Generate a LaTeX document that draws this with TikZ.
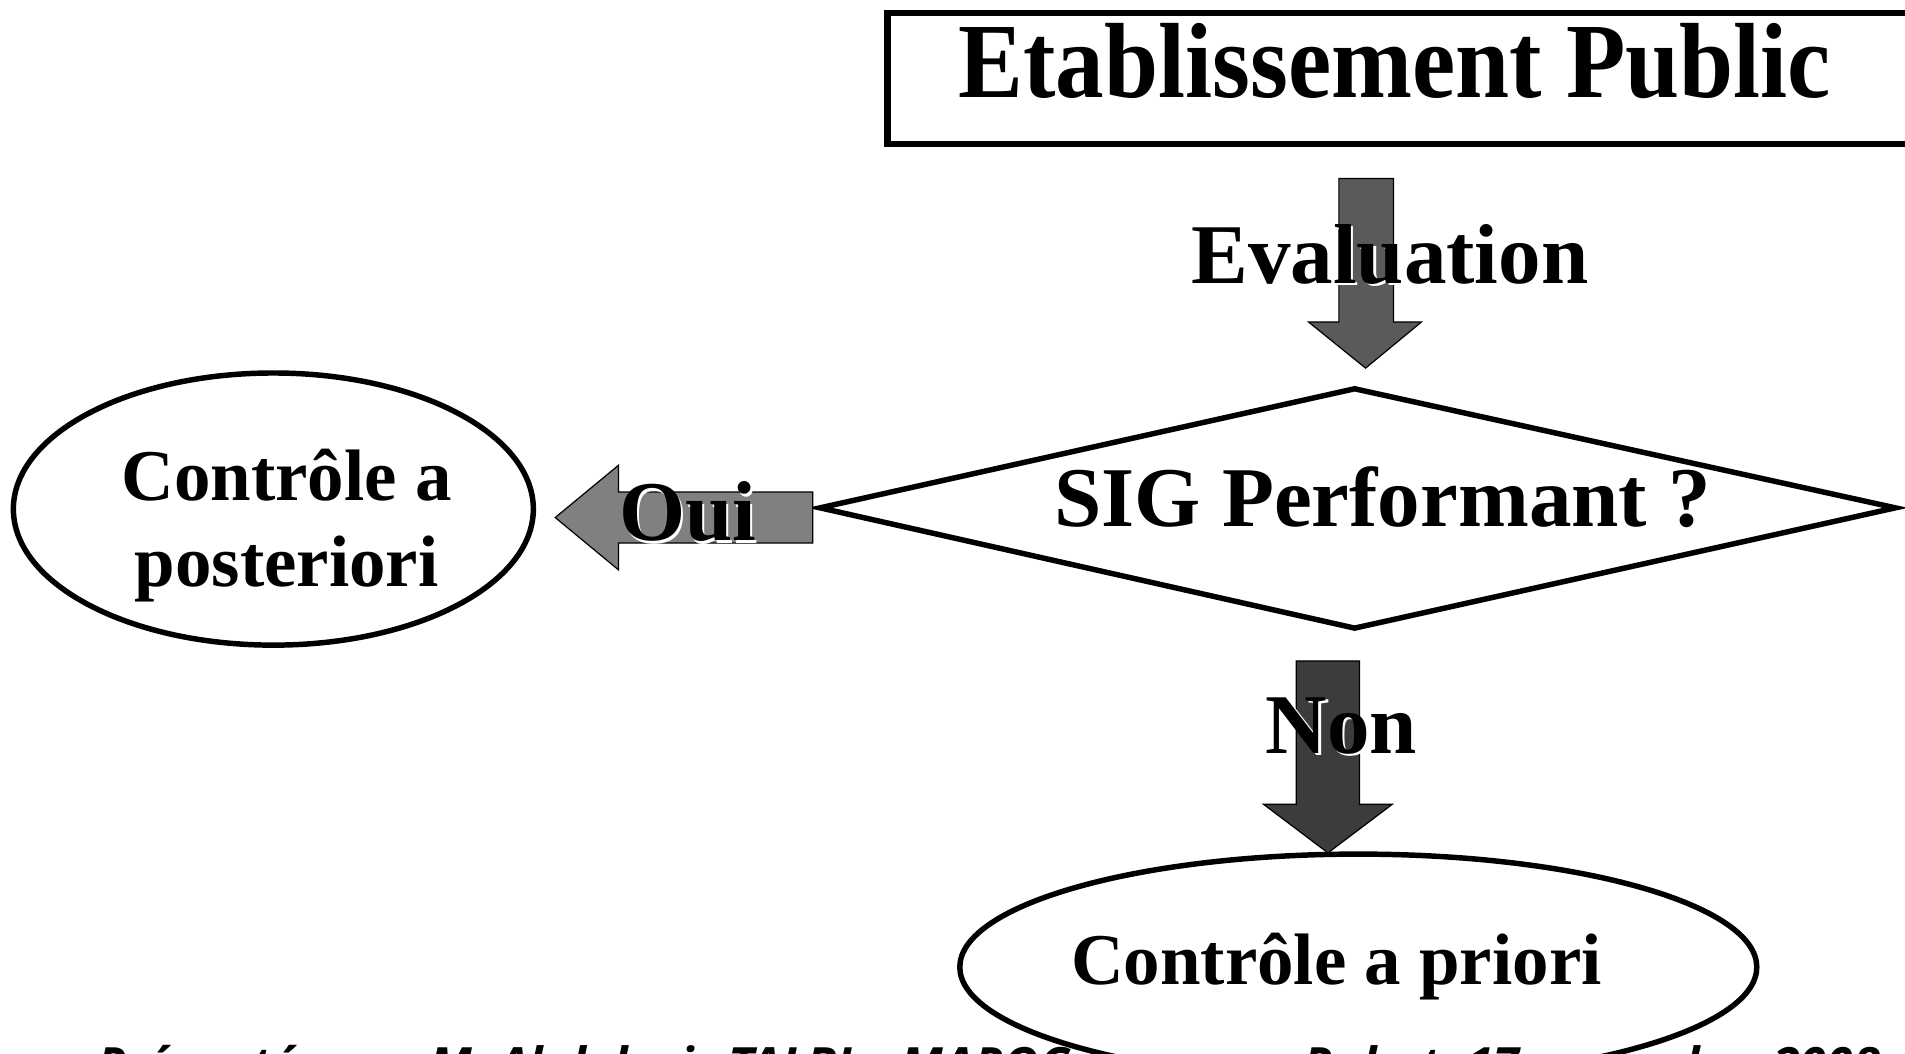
\documentclass[tikz,border=0pt]{standalone}
\usepackage{fontspec}
\setmainfont{Liberation Serif}
\newfontfamily\footfont{Open Sans}
\usetikzlibrary{shapes.geometric}
\definecolor{arrA}{HTML}{5A5A5A}
\definecolor{arrB}{HTML}{808080}
\definecolor{arrC}{HTML}{3C3C3C}
\tikzset{
  thick outline/.style={draw=black, line width=4.5pt},
  blockarrow/.style={draw=black, line width=1pt, line join=miter},
  label text/.style={font=\bfseries\fontsize{70}{84}\selectfont, inner sep=0pt, anchor=base, text=black},
  shadow text/.style={label text, text=white},
  oval text/.style={font=\bfseries\fontsize{60}{71}\selectfont, inner sep=0pt, anchor=base},
  foot text/.style={font=\footfont\bfseries\itshape\fontsize{40}{48}\selectfont, inner sep=0pt, anchor=base west}
}
\begin{document}
\begin{tikzpicture}[x=1pt,y=-1pt]
\useasboundingbox (0,0) rectangle (1568,867);
\clip (0,0) rectangle (1568,867);

% title box
\node[draw=black, line width=5pt, minimum width=900pt, minimum height=108pt, anchor=north west, inner sep=0pt] (box) at (728,8) {};
\node[font=\bfseries\fontsize{80}{96}\selectfont, inner sep=0pt, anchor=base, yscale=1.1] (title) at (1148,80) {Etablissement Public};

% decision diamond
\coordinate (dl) at (675,418);
\coordinate (dt) at (1115,320);
\coordinate (dr) at (1560,418);
\coordinate (db) at (1115,517);
\draw[thick outline, line join=miter] (dl) -- (dt) -- (dr) -- (db) -- cycle;
\node[label text] (sig) at (1138,433) {SIG Performant ?};

% ellipses
\node[ellipse, thick outline, minimum width=428pt, minimum height=224pt, inner sep=0pt] (post) at (225,419) {};
\node[oval text] (post1) at (236,412) {Contrôle a};
\node[oval text] (post2) at (236,483) {posteriori};

\node[ellipse, thick outline, minimum width=656pt, minimum height=186pt, inner sep=0pt] (prio) at (1118,796) {};
\node[oval text] (priot) at (1100,810) {Contrôle a priori};

% Evaluation arrow
\draw[blockarrow, fill=arrA] (1102,147) -- (1147,147) -- (1147,265) -- (1170,265) -- (1124,303) -- (1077,265) -- (1102,265) -- cycle;
\node[shadow text] (evalsh) at (1146,235) {Evaluation};
\node[label text] (eval) at (1144,233) {Evaluation};

% Oui arrow
\draw[blockarrow, fill=arrB] (669,405) -- (669,447) -- (509,447) -- (509,469) -- (457,426) -- (509,383) -- (509,405) -- cycle;
\node[shadow text] (ouish) at (568,447) {Oui};
\node[label text] (oui) at (566,445) {Oui};

% Non arrow
\draw[blockarrow, fill=arrC] (1067,544) -- (1119,544) -- (1119,662) -- (1146,662) -- (1093,702) -- (1040,662) -- (1067,662) -- cycle;
\node[shadow text] (nonsh) at (1106,622) {Non};
\node[label text] (non) at (1104,620) {Non};

% footer (clipped at the bottom, as in the reference)
\node[foot text] (foot1) at (80,891) {Présentée par M. Abdelaziz TALBI – MAROC};
\node[foot text] (foot2) at (1073,891) {Rabat, 17 novembre 2008};
\end{tikzpicture}
\end{document}
